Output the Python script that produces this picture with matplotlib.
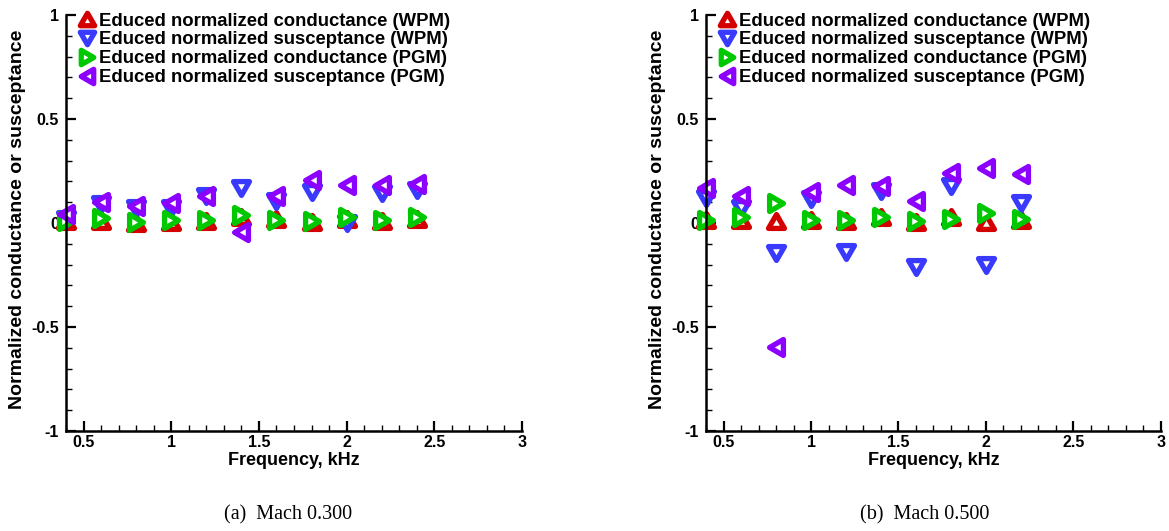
import numpy as np
import matplotlib.pyplot as plt
from matplotlib.path import Path
from matplotlib.markers import MarkerStyle
from matplotlib.ticker import MultipleLocator

plt.rcParams['font.family'] = ['Liberation Sans', 'DejaVu Sans']

# ----------------------
# Data
# ----------------------
freq_m03 = [0.4, 0.6, 0.8, 1.0, 1.2, 1.4, 1.6, 1.8, 2.0, 2.2, 2.4]
cond_wpm_m03 = [0.01, 0.01, 0.0, 0.005, 0.01, 0.03, 0.02, 0.005, 0.02, 0.01, 0.02]
susc_wpm_m03 = [0.02, 0.09, 0.07, 0.07, 0.13, 0.17, 0.105, 0.15, 0.0, 0.145, 0.16]
cond_pgm_m03 = [0.01, 0.025, 0.005, 0.015, 0.015, 0.04, 0.015, 0.01, 0.03, 0.015, 0.03]
susc_pgm_m03 = [0.045, 0.10, 0.08, 0.095, 0.13, -0.045, 0.13, 0.205, 0.185, 0.185, 0.19]

freq_m05 = [0.4, 0.6, 0.8, 1.0, 1.2, 1.4, 1.6, 1.8, 2.0, 2.2]
cond_wpm_m05 = [0.015, 0.015, 0.008, 0.015, 0.008, 0.03, 0.003, 0.03, 0.003, 0.015]
susc_wpm_m05 = [0.12, 0.07, -0.145, 0.115, -0.14, 0.155, -0.21, 0.18, -0.20, 0.095]
cond_pgm_m05 = [0.015, 0.03, 0.097, 0.013, 0.015, 0.03, 0.008, 0.02, 0.05, 0.02]
susc_pgm_m05 = [0.17, 0.13, -0.594, 0.15, 0.185, 0.18, 0.105, 0.24, 0.265, 0.235]

labels = ['Educed normalized conductance (WPM)',
          'Educed normalized susceptance (WPM)',
          'Educed normalized conductance (PGM)',
          'Educed normalized susceptance (PGM)']
colors = ['#d40000', '#3a3aff', '#00c800', '#8c00ff']

captions = ['(a)  Mach 0.300', '(b)  Mach 0.500']


# equilateral triangles centred on their bounding box
def tri(points):
    verts = points + [points[0]]
    codes = [Path.MOVETO, Path.LINETO, Path.LINETO, Path.CLOSEPOLY]
    return MarkerStyle(Path(verts, codes), joinstyle='miter')

h = 0.866
markers = [
    tri([(0, h), (-1, -h), (1, -h)]),    # up
    tri([(0, -h), (1, h), (-1, h)]),     # down
    tri([(h, 0), (-h, -1), (-h, 1)]),    # right
    tri([(-h, 0), (h, 1), (h, -1)]),     # left
]

# ----------------------
# Plotting
# ----------------------
fig = plt.figure(figsize=(11.69, 5.31), dpi=100)
ax1 = fig.add_axes([0.0565, 0.1883, 0.390, 0.7834])
ax2 = fig.add_axes([0.6040, 0.1883, 0.389, 0.7834])

panels = [
    (ax1, freq_m03, [cond_wpm_m03, susc_wpm_m03, cond_pgm_m03, susc_pgm_m03]),
    (ax2, freq_m05, [cond_wpm_m05, susc_wpm_m05, cond_pgm_m05, susc_pgm_m05]),
]

for ax, freq, series in panels:
    for vals, m, c, lab in zip(series, markers, colors, labels):
        ax.plot(freq, vals, linestyle='none', marker=m, markersize=11.5,
                markeredgewidth=3.8, markeredgecolor=c, markerfacecolor='white',
                label=lab, clip_on=False)

    ax.set_xlim(0.4, 3)
    ax.set_ylim(-1, 1)
    ax.xaxis.set_minor_locator(MultipleLocator(0.1))
    ax.yaxis.set_minor_locator(MultipleLocator(0.1))
    ax.set_xticks([0.5, 1, 1.5, 2, 2.5, 3])
    ax.set_xticklabels(['0.5', '1', '1.5', '2', '2.5', '3'])
    ax.set_yticks([-1, -0.5, 0, 0.5, 1])
    ax.set_yticklabels(['-1', '-0.5', '0', '0.5', '1'])

    for s in ['top', 'right']:
        ax.spines[s].set_visible(False)
    for s in ['left', 'bottom']:
        ax.spines[s].set_linewidth(1.8)

    ax.tick_params(which='major', direction='in', length=7.5, width=1.6,
                   labelsize=11.5, pad=3)
    ax.tick_params(which='minor', direction='in', length=4.3, width=1.0)
    ax.tick_params(axis='y', which='major', pad=5)
    for t in ax.get_xticklabels() + ax.get_yticklabels():
        t.set_fontweight('bold')

    ax.set_xlabel('Frequency, kHz', fontsize=13, fontweight='bold', labelpad=1)
    ax.set_ylabel('Normalized conductance or susceptance', fontsize=14,
                  fontweight='bold', va='center')
    ax.yaxis.set_label_coords(-0.107, 0.51)

    ax.legend(loc='upper left', bbox_to_anchor=(0.005, 1.028), frameon=False,
              prop={'size': 13.3, 'weight': 'bold'}, handlelength=1.0,
              handletextpad=0.15, labelspacing=0.1, borderpad=0,
              markerscale=0.9)

fig.text(0.246, 0.030, captions[0], family='Liberation Serif', fontsize=14.5,
         ha='center', va='center')
fig.text(0.791, 0.030, captions[1], family='Liberation Serif', fontsize=14.5,
         ha='center', va='center')

fig.savefig('out.png', dpi=100)
